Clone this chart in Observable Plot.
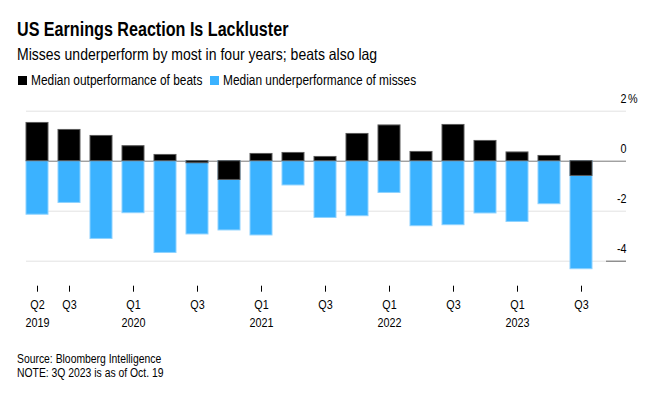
<!DOCTYPE html>
<html>
<head>
<meta charset="utf-8">
<script src="https://cdn.jsdelivr.net/npm/d3@7"></script>
<script src="https://cdn.jsdelivr.net/npm/@observablehq/plot@0.6"></script>
<style>
  html, body { margin: 0; padding: 0; background: #fff; }
  body { width: 656px; height: 398px; position: relative; overflow: hidden; font-family: "Liberation Sans", Arial, sans-serif; color: #000; }
  .abs { position: absolute; white-space: nowrap; transform-origin: 0 0; }
  #title { left: 17px; top: 19px; font-size: 20px; line-height: 20px; font-weight: bold; transform: scaleX(0.806); }
  #subtitle { left: 17px; top: 46px; font-size: 16.5px; line-height: 16.5px; transform: scaleX(0.85); }
  .leg { top: 73px; font-size: 14px; line-height: 14px; transform: scaleX(0.85); }
  .sw { position: absolute; top: 76px; width: 9px; height: 9px; }
  #chart { position: absolute; left: 0; top: 92px; }
  #caption { left: 17px; top: 352px; font-size: 12.5px; line-height: 14px; transform: scaleX(0.83); }
</style>
</head>
<body>
<div id="title" class="abs">US Earnings Reaction Is Lackluster</div>
<div id="subtitle" class="abs">Misses underperform by most in four years; beats also lag</div>
<div class="sw" style="left:18px;background:#000"></div>
<div class="abs leg" style="left:31px">Median outperformance of beats</div>
<div class="sw" style="left:210px;background:#3bb2ff"></div>
<div class="abs leg" style="left:223px">Median underperformance of misses</div>
<div id="chart"></div>
<div id="caption" class="abs">Source: Bloomberg Intelligence<br>NOTE: 3Q 2023 is as of Oct. 19</div>
<script>
const quarters = ["Q2 2019","Q3 2019","Q4 2019","Q1 2020","Q2 2020","Q3 2020","Q4 2020","Q1 2021","Q2 2021","Q3 2021","Q4 2021","Q1 2022","Q2 2022","Q3 2022","Q4 2022","Q1 2023","Q2 2023","Q3 2023"];
const beats  = [1.53, 1.25, 1.01, 0.60, 0.25, -0.08, -0.75, 0.29, 0.33, 0.17, 1.09, 1.43, 0.37, 1.45, 0.81, 0.35, 0.21, -0.59];
const misses = [-2.14, -1.67, -3.11, -2.08, -3.67, -2.93, -2.77, -2.97, -0.97, -2.27, -2.20, -1.27, -2.60, -2.56, -2.09, -2.43, -1.72, -4.32];
const tickQuarters = ["Q2 2019","Q3 2019","Q1 2020","Q3 2020","Q1 2021","Q3 2021","Q1 2022","Q3 2022","Q1 2023","Q3 2023"];
const tickLabels = ["Q2\n2019","Q3","Q1\n2020","Q3","Q1\n2021","Q3","Q1\n2022","Q3","Q1\n2023","Q3"];
const yTicks = [2, 0, -2, -4];
const gridTicks = [2, -2, -4];

const rows = quarters.map((q, i) => ({q, beat: beats[i], miss: misses[i]}));

const chart = Plot.plot({
  width: 656,
  height: 250,
  marginLeft: 16,
  marginRight: 54,
  marginTop: 6.2,
  marginBottom: 56.3,
  style: {fontFamily: "'Liberation Sans', Arial, sans-serif", fontSize: "13px", color: "#000", background: "#fff"},
  x: {type: "band", domain: quarters, padding: 0.3125, axis: null},
  y: {domain: [-5, 2.5], axis: null},
  marks: [
    Plot.ruleY(gridTicks, {stroke: "#e2e2e2", strokeWidth: 1, insetLeft: 10, insetRight: -24}),
    Plot.ruleY([0], {stroke: "#777", strokeWidth: 1, insetLeft: 10, insetRight: -24}),
    Plot.ruleY([-4], {stroke: "#666", strokeWidth: 1, insetLeft: 590, insetRight: -24}),
    Plot.barY(rows, {x: "q", y1: 0, y2: "miss", fill: "#3bb2ff", stroke: "#8ed2ff", strokeWidth: 1}),
    Plot.barY(rows, {x: "q", y1: 0, y2: "beat", fill: "#000", stroke: "#5a5a5a", strokeWidth: 1}),
    Plot.axisX({
      ticks: tickQuarters,
      tickFormat: d => tickLabels[tickQuarters.indexOf(d)],
      tickSize: 6,
      tickPadding: 4.5,
      lineHeight: 1.36,
      fontSize: 13,
      fill: "#000",
      stroke: "#000",
      label: null
    }),
    Plot.axisY({
      anchor: "right",
      ticks: yTicks,
      tickFormat: d => String(d),
      tickSize: 0,
      tickPadding: 24,
      textAnchor: "end",
      dy: -12,
      fontSize: 13,
      fill: "#000",
      label: null
    }),
    Plot.text([2], {y: d => d, text: () => "%", frameAnchor: "right", dx: 25.5, dy: -12, textAnchor: "start", fontSize: 13, fill: "#000"})
  ]
});
document.getElementById("chart").appendChild(chart);

// condense svg text glyphs (reference uses a narrow sans)
d3.select(chart).selectAll("text").each(function() {
  const spans = this.querySelectorAll("tspan");
  const targets = spans.length ? Array.from(spans) : [this];
  for (const t of targets) {
    const len = t.getComputedTextLength();
    if (len > 0) {
      t.setAttribute("textLength", (len * 0.83).toFixed(2));
      t.setAttribute("lengthAdjust", "spacingAndGlyphs");
    }
  }
});
</script>
</body>
</html>
